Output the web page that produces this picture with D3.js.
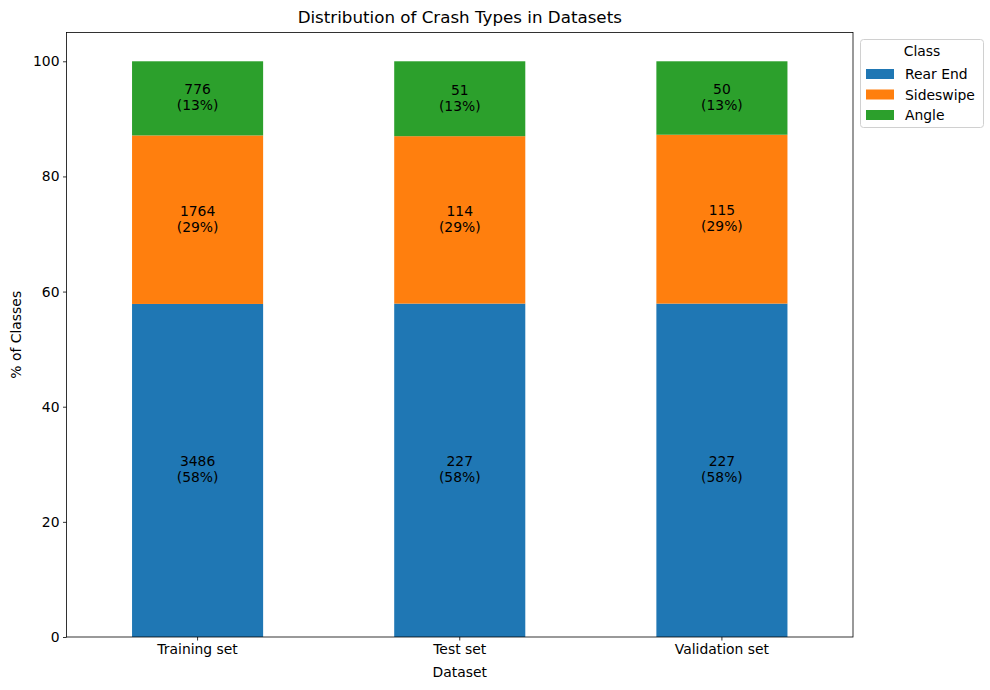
<!DOCTYPE html>
<html>
<head>
<meta charset="utf-8">
<script src="https://cdn.jsdelivr.net/npm/d3@7"></script>
<style>
  body { margin: 0; background: #fff; }
  text { font-family: "DejaVu Sans", sans-serif; }
</style>
</head>
<body>
<svg id="chart" width="990" height="690"></svg>
<script>
// data
var datasets = ["Training set", "Test set", "Validation set"];
var classes = ["Rear End", "Sideswipe", "Angle"];
var rearEnd = [3486, 227, 227];
var sideswipe = [1764, 114, 115];
var angle = [776, 51, 50];
var yTicks = [0, 20, 40, 60, 80, 100];
var colors = ["#1f77b4", "#ff7f0e", "#2ca02c"];

var counts = [rearEnd, sideswipe, angle];
var fs = 13.9;

var margin = {left: 66.5, right: 853, top: 32.5, bottom: 637};
var svg = d3.select("#chart");

var x = d3.scaleBand().domain(datasets)
	.range([margin.left, margin.right]).paddingInner(0.5).paddingOuter(0.25);
var y = d3.scaleLinear().domain([0, 105]).range([margin.bottom, margin.top]);

// build stacked rows in percent
var rows = datasets.map(function(d, i){
	var row = {dataset: d};
	var total = 0;
	classes.forEach(function(c, k){ total += counts[k][i]; });
	classes.forEach(function(c, k){
		row[c] = counts[k][i] / total * 100;
		row[c + "_n"] = counts[k][i];
	});
	return row;
});
var stack = d3.stack().keys(classes)(rows);

var layers = svg.selectAll("g.layer").data(stack).enter().append("g")
	.attr("fill", function(d, k){ return colors[k]; });

layers.selectAll("rect").data(function(d){ return d; }).enter().append("rect")
	.attr("x", function(d){ return x(d.data.dataset); })
	.attr("width", x.bandwidth())
	.attr("y", function(d){ return y(d[1]); })
	.attr("height", function(d){ return y(d[0]) - y(d[1]); });

// segment labels
stack.forEach(function(layer){
	layer.forEach(function(d){
		var cx = x(d.data.dataset) + x.bandwidth() / 2;
		var cy = y((d[0] + d[1]) / 2);
		var t = svg.append("text").attr("text-anchor", "middle")
			.attr("font-size", fs).attr("fill", "#000");
		t.append("tspan").attr("x", cx).attr("y", cy - 4)
			.text(d.data[layer.key + "_n"]);
		t.append("tspan").attr("x", cx).attr("y", cy + 12)
			.text("(" + Math.round(d[1] - d[0]) + "%)");
	});
});

// axes
var yAxis = d3.axisLeft(y).tickValues(yTicks).tickSize(3.5).tickPadding(3.5);
var xAxis = d3.axisBottom(x).tickSize(3.5).tickPadding(3.5);

var gy = svg.append("g").attr("transform", "translate(" + margin.left + ",0)").call(yAxis);
var gx = svg.append("g").attr("transform", "translate(0," + margin.bottom + ")").call(xAxis);
[gx, gy].forEach(function(g){
	g.select(".domain").remove();
	g.selectAll("text").attr("font-size", fs).attr("fill", "#000")
		.style("font-family", "DejaVu Sans, sans-serif");
	g.selectAll("line").attr("stroke", "#000").attr("stroke-width", 0.8);
});

// frame
svg.append("rect").attr("x", margin.left).attr("y", margin.top)
	.attr("width", margin.right - margin.left).attr("height", margin.bottom - margin.top)
	.attr("fill", "none").attr("stroke", "#000").attr("stroke-width", 0.8);

// titles
svg.append("text").attr("x", (margin.left + margin.right) / 2).attr("y", 23)
	.attr("text-anchor", "middle").attr("font-size", 16.7).text("Distribution of Crash Types in Datasets");
svg.append("text").attr("x", (margin.left + margin.right) / 2).attr("y", 677)
	.attr("text-anchor", "middle").attr("font-size", fs).text("Dataset");
svg.append("text").attr("transform", "translate(21," + ((margin.top + margin.bottom) / 2) + ") rotate(-90)")
	.attr("text-anchor", "middle").attr("font-size", fs).text("% of Classes");

// legend
var lg = svg.append("g").attr("transform", "translate(860,39)");
lg.append("rect").attr("x", 0.5).attr("y", 0.5).attr("width", 123).attr("height", 88)
	.attr("rx", 3).attr("fill", "#fff").attr("stroke", "#d0d0d0");
lg.append("text").attr("x", 62).attr("y", 17).attr("text-anchor", "middle")
	.attr("font-size", fs).text("Class");
classes.forEach(function(c, k){
	var yy = 30 + k * 20.5;
	lg.append("rect").attr("x", 6).attr("y", yy).attr("width", 28).attr("height", 10)
		.attr("fill", colors[k]);
	lg.append("text").attr("x", 45).attr("y", yy + 10).attr("font-size", fs).text(c);
});
</script>
</body>
</html>
